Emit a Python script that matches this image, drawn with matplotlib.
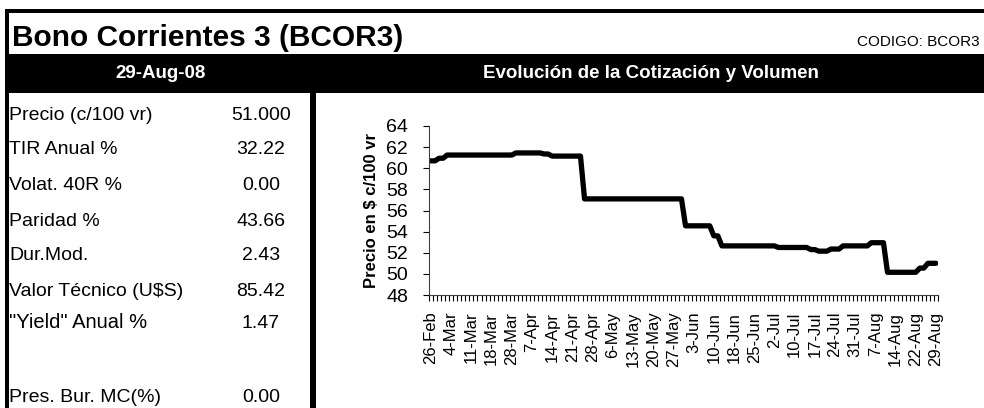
import numpy as np
import matplotlib
matplotlib.use('Agg')
import matplotlib.pyplot as plt
from matplotlib import font_manager

# fonts: narrow Arial-like if present
names = set(f.name for f in font_manager.fontManager.ttflist)
narrow = 'Liberation Sans Narrow' if 'Liberation Sans Narrow' in names else 'Liberation Sans'
plt.rcParams['font.family'] = ['Liberation Sans', 'DejaVu Sans']

# panel data
title = 'Bono Corrientes 3 (BCOR3)'
codigo = 'CODIGO: BCOR3'
fecha = '29-Aug-08'
chart_title = 'Evolución de la Cotización y Volumen'
row_labels = ['Precio (c/100 vr)', 'TIR Anual %', 'Volat. 40R %', 'Paridad %',
              'Dur.Mod.', 'Valor Técnico (U$S)', '"Yield" Anual %', '', 'Pres. Bur. MC(%)']
row_values = ['51.000', '32.22', '0.00', '43.66', '2.43', '85.42', '1.47', '', '0.00']

# price series (one value per trading day, 26-Feb to 29-Aug)
precio = [60.7, 60.7, 60.95, 60.95, 61.25, 61.25, 61.25, 61.25, 61.25, 61.25,
          61.25, 61.25, 61.25, 61.25, 61.25, 61.25, 61.25, 61.25, 61.25, 61.25,
          61.25, 61.45, 61.45, 61.45, 61.45, 61.45, 61.45, 61.45, 61.35, 61.35,
          61.15, 61.15, 61.15, 61.15, 61.15, 61.15, 61.15, 61.15, 57.1, 57.1,
          57.1, 57.1, 57.1, 57.1, 57.1, 57.1, 57.1, 57.1, 57.1, 57.1,
          57.1, 57.1, 57.1, 57.1, 57.1, 57.1, 57.1, 57.1, 57.1, 57.1,
          57.1, 57.1, 57.1, 54.55, 54.55, 54.55, 54.55, 54.55, 54.55, 54.55,
          53.6, 53.6, 52.65, 52.65, 52.65, 52.65, 52.65, 52.65, 52.65, 52.65,
          52.65, 52.65, 52.65, 52.65, 52.65, 52.65, 52.5, 52.5, 52.5, 52.5,
          52.5, 52.5, 52.5, 52.5, 52.3, 52.3, 52.15, 52.15, 52.15, 52.35,
          52.35, 52.35, 52.65, 52.65, 52.65, 52.65, 52.65, 52.65, 52.65, 52.95,
          52.95, 52.95, 52.95, 50.15, 50.15, 50.15, 50.15, 50.15, 50.15, 50.15,
          50.15, 50.55, 50.55, 51.0, 51.0, 51.0]
fechas_label = ['26-Feb', '4-Mar', '11-Mar', '18-Mar', '28-Mar', '7-Apr', '14-Apr',
                '21-Apr', '28-Apr', '6-May', '13-May', '20-May', '27-May', '3-Jun',
                '10-Jun', '18-Jun', '25-Jun', '2-Jul', '10-Jul', '17-Jul', '24-Jul',
                '31-Jul', '7-Aug', '14-Aug', '22-Aug', '29-Aug']
label_step = 5
yticks = [48, 50, 52, 54, 56, 58, 60, 62, 64]

W, H = 984, 408
fig = plt.figure(figsize=(W / 100, H / 100), dpi=100)

# background layer in pixel coords
bg = fig.add_axes([0, 0, 1, 1])
bg.set_xlim(0, W)
bg.set_ylim(H, 0)
bg.axis('off')

bg.fill_between([5, W], 9, 13, color='black', lw=0)          # top border
bg.fill_between([5, 9], 9, H, color='black', lw=0)           # left border
bg.fill_between([5, W], 54, 93, color='black', lw=0)         # header band
bg.fill_between([310, 316], 93, H, color='black', lw=0)      # panel divider

bg.text(12, 46, title, family=narrow, fontweight='bold', fontsize=21.5, va='baseline', ha='left')
bg.text(980, 46, codigo, family=narrow, fontsize=11, va='baseline', ha='right')
bg.text(161, 74, fecha, family=narrow, fontweight='bold', fontsize=13.5, color='white', ha='center', va='center')
bg.text(651, 74, chart_title, family=narrow, fontweight='bold', fontsize=13.5, color='white', ha='center', va='center')

row_y = [115, 150, 185, 221, 256, 291, 323, 360, 397]
for y, lab, val in zip(row_y, row_labels, row_values):
    fs = 14.5 if lab.startswith('"') else 14
    bg.text(9, y, lab, family=narrow, fontsize=fs, ha='left', va='center')
    bg.text(261, y, val, family=narrow, fontsize=14, ha='center', va='center')

# price chart
ax = fig.add_axes([429 / W, 1 - 295 / H, (938 - 429) / W, (295 - 126) / H])
x = np.arange(len(precio))
ax.plot(x, precio, color='black', lw=3.8, solid_joinstyle='round', solid_capstyle='round')
ax.set_xlim(-0.5, len(precio) - 0.5)
ax.set_ylim(48, 64)
ax.set_yticks(yticks)
ax.set_yticklabels([str(v) for v in yticks], family=narrow, fontsize=14)
ax.set_xticks(x[::label_step])
ax.set_xticklabels(fechas_label, rotation=90, fontsize=12)
ax.set_xticks(np.arange(-0.5, len(precio), 1), minor=True)
ax.tick_params(axis='x', which='major', length=0, pad=12)
ax.tick_params(axis='x', which='minor', length=4, width=0.8, direction='out')
ax.tick_params(axis='y', length=4, width=0.8, pad=11)
for s in ['top', 'right']:
    ax.spines[s].set_visible(False)
for s in ['left', 'bottom']:
    ax.spines[s].set_color('#404040')
    ax.spines[s].set_linewidth(0.8)
ax.set_ylabel('Precio en $ c/100 vr', fontweight='bold', fontsize=12, labelpad=5)

fig.savefig('out.png', dpi=100)
